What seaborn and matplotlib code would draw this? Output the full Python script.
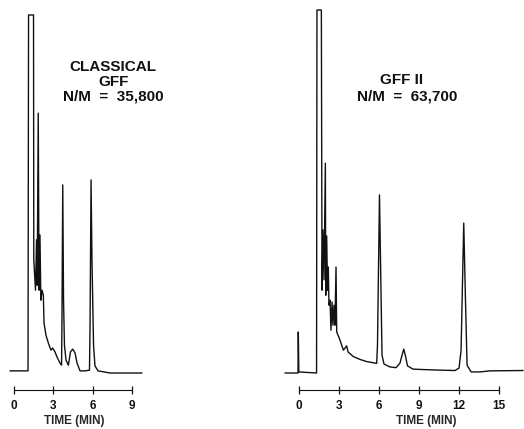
import numpy as np
import pandas as pd
import seaborn as sns
from matplotlib import pyplot as plt

# classical GFF column: time (min) vs detector response (% full scale)
classical_time = [-0.31, 0.46, 1.07, 1.11, 1.49, 1.51, 1.64, 1.72, 1.77, 1.85,
                  1.91, 1.98, 2.05, 2.14, 2.24, 2.29, 2.44, 2.62, 2.82, 2.95,
                  3.13, 3.28, 3.51, 3.63, 3.66, 3.72, 3.78, 3.85, 3.97, 4.15,
                  4.31, 4.48, 4.66, 4.81, 5.04, 5.42, 5.76, 5.80, 5.88, 5.95,
                  6.07, 6.18, 6.41, 7.33, 9.77]
classical_signal = [0.6, 0.6, 0.6, 100.3, 100.3, 31.7, 23.2, 37.3, 24.6, 72.8,
                    23.2, 38.7, 20.4, 23.2, 21.8, 14.0, 10.6, 8.4, 6.4, 7.0,
                    5.9, 4.5, 2.8, 2.2, 14.8, 52.7, 20.4, 7.8, 3.6, 2.2,
                    5.9, 6.7, 5.6, 2.8, 0.6, 0.6, 0.8, 12.0, 54.1, 31.7,
                    7.8, 2.0, 0.6, 0.0, 0.0]

# GFF II column
gff2_time = [-1.03, -0.05, -0.03, 0.01, 1.34, 1.37, 1.70, 1.75, 1.82, 1.90,
             2.00, 2.03, 2.10, 2.16, 2.22, 2.27, 2.35, 2.42, 2.50, 2.57,
             2.65, 2.72, 2.80, 2.85, 2.95, 3.10, 3.35, 3.60, 3.70, 4.10,
             4.60, 5.10, 5.85, 5.91, 6.06, 6.16, 6.25, 6.40, 6.85, 7.30,
             7.60, 7.75, 7.88, 8.01, 8.16, 8.57, 9.10, 10.60, 11.73, 12.03,
             12.18, 12.38, 12.51, 12.63, 12.93, 13.60, 14.35, 16.83]
gff2_signal = [0.0, 0.0, 11.5, 0.3, 0.0, 101.7, 101.7, 23.2, 40.1, 26.1,
               58.8, 21.8, 38.4, 23.2, 29.7, 19.0, 20.4, 12.0, 19.9, 13.4,
               19.0, 13.4, 29.7, 11.5, 10.6, 9.2, 6.4, 7.6, 5.9, 4.6,
               3.8, 3.2, 2.7, 7.8, 49.9, 26.1, 5.0, 2.5, 1.7, 1.5,
               2.8, 5.0, 6.7, 4.8, 2.0, 1.1, 1.0, 0.8, 0.7, 1.4,
               6.4, 42.0, 20.4, 2.2, 0.3, 0.3, 0.6, 0.7]

classical_ticks = [0, 3, 6, 9]
gff2_ticks = [0, 3, 6, 9, 12, 15]
classical_lines = ["CLASSICAL", "GFF", "N/M  =  35,800"]
gff2_lines = ["GFF II", "N/M  =  63,700"]

sns.set_style("white")
plt.rcParams["font.family"] = ["Liberation Sans", "DejaVu Sans"]
plt.rcParams["font.weight"] = "bold"

YLIM = (-4.76, 103.1)


def draw_column(fig, rect, time, signal, ticks, xlim, label_t):
    ax = fig.add_axes(rect)
    df = pd.DataFrame({"time": time, "signal": signal})
    sns.lineplot(data=df, x="time", y="signal", sort=False, estimator=None,
                 color="#111111", linewidth=1.0, ax=ax)
    ax.set_xlim(*xlim)
    ax.set_ylim(*YLIM)
    ax.set_yticks([])
    ax.set_ylabel("")
    for side in ["left", "right", "top"]:
        ax.spines[side].set_visible(False)
    ax.spines["bottom"].set_bounds(ticks[0], ticks[-1])
    ax.spines["bottom"].set_linewidth(0.8)
    ax.spines["bottom"].set_color("#111111")
    ax.set_xticks(ticks)
    ax.set_xticklabels([str(t) for t in ticks])
    ax.tick_params(axis="x", direction="inout", length=6, width=0.9,
                   pad=4, labelsize=8.5, colors="#111111", bottom=True)
    ax.set_xlabel("TIME (MIN)", fontsize=8.5, fontweight="bold")
    frac = (label_t - xlim[0]) / (xlim[1] - xlim[0])
    ax.xaxis.set_label_coords(frac, -0.066)
    ax.patch.set_alpha(0)
    return ax


fig = plt.figure(figsize=(5.24, 4.29), dpi=100)
bottom = 39 / 429
height = 385 / 429

left_ax = draw_column(fig, [0.9 / 524, bottom, 152 / 524, height],
                      classical_time, classical_signal, classical_ticks,
                      (-1.0, 10.6), 4.6)
right_ax = draw_column(fig, [282.7 / 524, bottom, 241.3 / 524, height],
                       gff2_time, gff2_signal, gff2_ticks,
                       (-1.2, 16.9), 9.6)

for txt, y in zip(classical_lines, [85.8, 81.6, 77.4]):
    left_ax.text(7.56, y, txt, ha="center", va="center", fontsize=11,
                 fontweight="bold", color="#111111", clip_on=False)
for txt, x, y in zip(gff2_lines, [7.75, 8.12], [82.1, 77.4]):
    right_ax.text(x, y, txt, ha="center", va="center", fontsize=11,
                  fontweight="bold", color="#111111", clip_on=False)

fig.savefig("out.png", dpi=100)
